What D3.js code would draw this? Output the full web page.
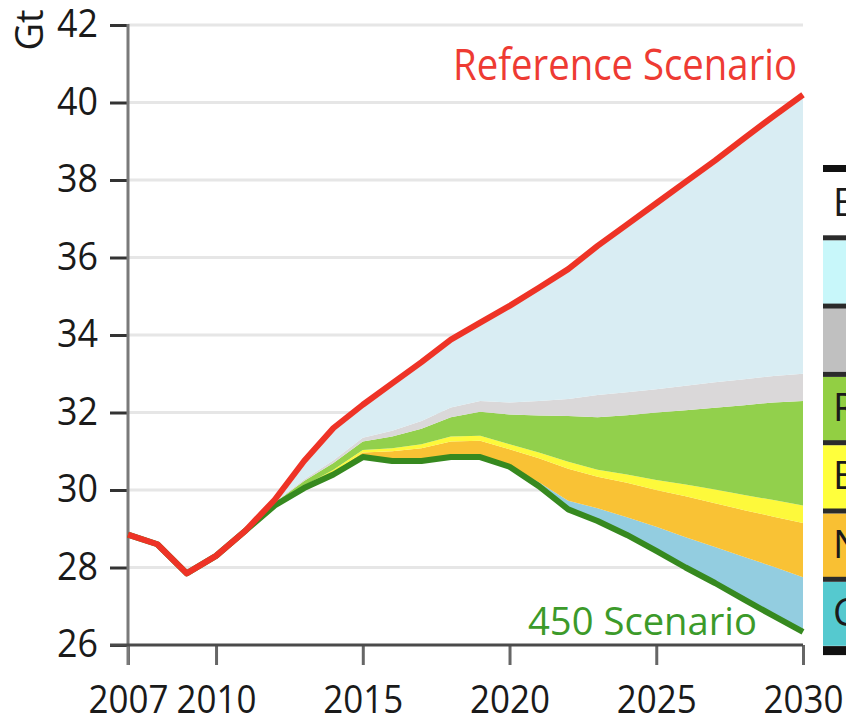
<!DOCTYPE html>
<html lang="en">
<head>
<meta charset="UTF-8">
<title>CO2 abatement</title>
<style>
  body { margin: 0; background: #fff; }
  svg { display: block; font-family: "Open Sans", "Noto Sans", sans-serif; }
</style>
</head>
<body>

<svg id="chart" width="846" height="724"></svg>

<script src="https://cdn.jsdelivr.net/npm/d3@7"></script>
<script>
// values, Gt
var years = [2007, 2008, 2009, 2010, 2011, 2012, 2013, 2014, 2015, 2016, 2017, 2018,
             2019, 2020, 2021, 2022, 2023, 2024, 2025, 2026, 2027, 2028, 2029, 2030];
var reference = [28.85, 28.6, 27.85, 28.3, 28.95, 29.75, 30.75, 31.6, 32.2, 32.75, 33.3, 33.88,
                 34.32, 34.75, 35.22, 35.7, 36.3, 36.85, 37.4, 37.95, 38.5, 39.08, 39.65, 40.2];
var scenario450 = [28.85, 28.6, 27.85, 28.3, 28.95, 29.6, 30.05, 30.4, 30.85, 30.75, 30.75, 30.85,
                   30.85, 30.6, 30.1, 29.5, 29.2, 28.84, 28.43, 28.0, 27.6, 27.17, 26.75, 26.34];
// wedges, bottom to top
var ccs = [0, 0, 0, 0, 0, 0, 0, 0, 0, 0, 0, 0,
           0, 0.02, 0.1, 0.22, 0.33, 0.46, 0.62, 0.78, 0.93, 1.1, 1.27, 1.41];
var nuclear = [0, 0, 0, 0, 0, 0, 0.03, 0.07, 0.12, 0.25, 0.33, 0.4,
               0.42, 0.43, 0.62, 0.83, 0.81, 0.89, 0.95, 1.06, 1.13, 1.21, 1.29, 1.4];
var biofuels = [0, 0, 0, 0, 0, 0.02, 0.03, 0.05, 0.06, 0.08, 0.1, 0.13,
                0.13, 0.13, 0.15, 0.18, 0.18, 0.21, 0.26, 0.3, 0.35, 0.39, 0.43, 0.45];
var renewables = [0, 0, 0, 0, 0, 0.05, 0.12, 0.18, 0.22, 0.3, 0.4, 0.5,
                  0.62, 0.77, 0.95, 1.18, 1.36, 1.53, 1.74, 1.92, 2.11, 2.32, 2.52, 2.7];
var powerPlants = [0, 0, 0, 0, 0, 0.02, 0.04, 0.07, 0.1, 0.15, 0.2, 0.25,
                   0.28, 0.31, 0.38, 0.44, 0.57, 0.59, 0.6, 0.63, 0.66, 0.67, 0.68, 0.7];
var endUse = [0, 0, 0, 0, 0, 0.06, 0.48, 0.83, 0.85, 1.22, 1.52, 1.75,
              2.02, 2.49, 2.92, 3.35, 3.85, 4.33, 4.8, 5.26, 5.72, 6.22, 6.71, 7.2];

var yTicks = [26, 28, 30, 32, 34, 36, 38, 40, 42];
var xTicks = [2007, 2010, 2015, 2020, 2025, 2030];

var legendLabels = ["Efficiency", "", "", "Renewables", "Biofuels", "Nuclear", "CCS"];
var legendColors = ["#ffffff", "#c8f7fa", "#c0c0c0", "#92cf43", "#ffff3c", "#f9c033", "#55c9cf"];

var layerColors = {
  ccs: "#93cde0",
  nuclear: "#f9c235",
  biofuels: "#fdf93b",
  renewables: "#92d04c",
  powerPlants: "#dad8d9",
  endUse: "#d9edf3"
};

var svg = d3.select("#chart");

var x = d3.scaleLinear().domain([2007, 2030]).range([128, 803]);
var y = d3.scaleLinear().domain([26, 42]).range([645, 25]);

// grid
svg.append("g")
  .selectAll("line")
  .data(yTicks.filter(function (d) { return d > 26; }))
  .join("line")
    .attr("x1", x(2007)).attr("x2", x(2030))
    .attr("y1", function (d) { return y(d); })
    .attr("y2", function (d) { return y(d); })
    .attr("stroke", "#e6e6e6")
    .attr("stroke-width", 3);

// stacked wedges on top of the 450 line
var table = years.map(function (yr, i) {
  return {
    year: yr, base: scenario450[i], ccs: ccs[i], nuclear: nuclear[i], biofuels: biofuels[i],
    renewables: renewables[i], powerPlants: powerPlants[i], endUse: endUse[i]
  };
});
var keys = ["base", "ccs", "nuclear", "biofuels", "renewables", "powerPlants", "endUse"];
var series = d3.stack().keys(keys)(table);

var area = d3.area()
  .x(function (d) { return x(d.data.year); })
  .y0(function (d) { return y(d[0]); })
  .y1(function (d) { return y(d[1]); });

svg.append("g")
  .selectAll("path")
  .data(series.slice(1))
  .join("path")
    .attr("fill", function (d) { return layerColors[d.key]; })
    .attr("d", area);

// axes
var yAxis = d3.axisLeft(y).tickValues(yTicks).tickSize(18).tickPadding(12).tickFormat(d3.format("d"));
var gy = svg.append("g").attr("transform", "translate(" + x(2007) + ",0)").call(yAxis);
gy.attr("font-family", null).attr("font-size", null);
gy.select(".domain").remove();
gy.selectAll(".tick line").attr("stroke", "#333").attr("stroke-width", 3);
gy.selectAll(".tick text")
  .attr("font-size", 39).attr("font-weight", 500).attr("fill", "#1a1a1a")
  .attr("textLength", function (d) { return String(d).length * 20.5; })
  .attr("lengthAdjust", "spacingAndGlyphs")
  .attr("dy", "0.3em");

var xAxis = d3.axisBottom(x).tickValues(xTicks).tickSize(20).tickPadding(20).tickFormat(d3.format("d"));
var gx = svg.append("g").attr("transform", "translate(0," + y(26) + ")").call(xAxis);
gx.attr("font-family", null).attr("font-size", null);
gx.select(".domain").remove();
gx.selectAll(".tick line").attr("stroke", "#666").attr("stroke-width", 3);
gx.selectAll(".tick text")
  .attr("font-size", 39).attr("font-weight", 500).attr("fill", "#1a1a1a")
  .attr("textLength", 80).attr("lengthAdjust", "spacingAndGlyphs");

// axis lines
svg.append("line")
  .attr("x1", x(2007)).attr("x2", x(2007))
  .attr("y1", y(42) - 1).attr("y2", y(26) + 20)
  .attr("stroke", "#7a7a7a").attr("stroke-width", 3);
svg.append("line")
  .attr("x1", x(2007) - 18).attr("x2", x(2030))
  .attr("y1", y(26)).attr("y2", y(26))
  .attr("stroke", "#4a4a4a").attr("stroke-width", 3);

// scenario lines
var scenarioLine = d3.line()
  .x(function (d, i) { return x(years[i]); })
  .y(function (d) { return y(d); });

svg.append("path")
  .datum(scenario450)
  .attr("fill", "none")
  .attr("stroke", "#36891f")
  .attr("stroke-width", 6)
  .attr("stroke-linejoin", "round")
  .attr("d", scenarioLine);

svg.append("path")
  .datum(reference)
  .attr("fill", "none")
  .attr("stroke", "#ee3326")
  .attr("stroke-width", 6)
  .attr("stroke-linejoin", "round")
  .attr("d", scenarioLine);

// labels
svg.append("text")
  .attr("x", 453).attr("y", 80)
  .attr("font-size", 43)
  .attr("fill", "#ee3b33")
  .attr("textLength", 344).attr("lengthAdjust", "spacingAndGlyphs")
  .text("Reference Scenario");

svg.append("text")
  .attr("x", 528).attr("y", 635)
  .attr("font-size", 39)
  .attr("fill", "#3c9a2a")
  .attr("textLength", 229).attr("lengthAdjust", "spacingAndGlyphs")
  .text("450 Scenario");

svg.append("text")
  .attr("transform", "translate(43,30) rotate(-90)")
  .attr("text-anchor", "middle")
  .attr("font-size", 38)
  .attr("font-weight", 500)
  .attr("fill", "#1a1a1a")
  .text("Gt");

// legend table, cut by the right edge
var legendX = 823, rowTop = 172, rowStep = 68.3, rowH = 63;
var leg = svg.append("g");

leg.selectAll("rect.row")
  .data(legendColors)
  .join("rect")
    .attr("class", "row")
    .attr("x", legendX).attr("width", 60)
    .attr("y", function (d, i) { return rowTop + i * rowStep; })
    .attr("height", rowH + 1)
    .attr("fill", function (d) { return d; });

leg.selectAll("rect.sep")
  .data(legendColors.slice(1))
  .join("rect")
    .attr("class", "sep")
    .attr("x", legendX).attr("width", 60)
    .attr("y", function (d, i) { return rowTop + (i + 1) * rowStep - 5; })
    .attr("height", 5)
    .attr("fill", "#2b2b2b");

leg.append("rect").attr("x", legendX).attr("width", 60)
  .attr("y", rowTop - 7).attr("height", 7).attr("fill", "#111");
leg.append("rect").attr("x", legendX).attr("width", 60)
  .attr("y", rowTop + 7 * rowStep - 4).attr("height", 9).attr("fill", "#111");

leg.selectAll("text")
  .data(legendLabels)
  .join("text")
    .attr("x", 833)
    .attr("y", function (d, i) { return rowTop + i * rowStep + rowH / 2; })
    .attr("dy", "0.33em")
    .attr("font-size", 38)
    .attr("fill", "#1a1a1a")
    .text(function (d) { return d; });
</script>

</body>
</html>
